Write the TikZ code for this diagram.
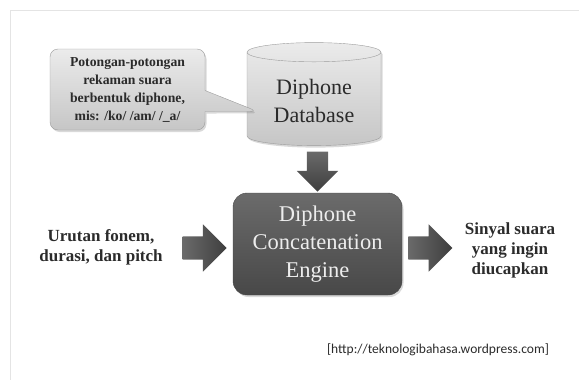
\documentclass[tikz,border=0pt]{standalone}
\usepackage{fontspec}
\IfFontExistsTF{LiberationSerif}
  {\setmainfont{LiberationSerif}[BoldFont=LiberationSerif-Bold]}
  {\setmainfont{Liberation Serif}}
\newfontfamily\urlfont{Carlito}
\usetikzlibrary{shapes.geometric,shapes.arrows,shapes.callouts,shadows,calc,positioning}

\definecolor{framegray}{HTML}{E4E4E4}
\definecolor{inkgray}{HTML}{2B2B2B}
\definecolor{enginetop}{HTML}{6B6B6B}
\definecolor{enginebot}{HTML}{484848}
\definecolor{arrowlight}{HTML}{6A6A6A}
\definecolor{arrowdark}{HTML}{3E3E3E}
\definecolor{paletop}{HTML}{EBEBEB}
\definecolor{palebot}{HTML}{C6C6C6}
\definecolor{edgegray}{HTML}{9C9C9C}

\tikzset{
  softshadow/.style={drop shadow={opacity=0.3, shadow xshift=1.5pt, shadow yshift=-2pt}},
  fat/.style={single arrow, draw=none, inner xsep=0pt, inner ysep=11.5pt, minimum height=44pt,
              single arrow head extend=12pt},
}

\begin{document}
\begin{tikzpicture}[x=1pt, y=-1pt,
    engine/.style={rectangle, rounded corners=14pt, minimum width=169pt, minimum height=102pt,
                   top color=enginetop, bottom color=enginebot, draw=enginebot, softshadow,
                   text=white!93!black, align=center, font=\fontsize{22.5}{28}\selectfont},
    storage/.style={cylinder, shape border rotate=90, aspect=0.22, minimum width=134pt,
                    minimum height=103pt, top color=paletop, bottom color=palebot, draw=edgegray,
                    text=inkgray, align=center, font=\fontsize{22}{28}\selectfont, softshadow},
    bubble/.style={rectangle callout, rounded corners=8pt, minimum width=155pt, minimum height=81pt,
                   callout pointer width=21pt, top color=paletop, bottom color=palebot,
                   draw=edgegray, softshadow, text=inkgray, align=center,
                   font=\bfseries\fontsize{13.7}{18}\selectfont},
    note/.style={text=inkgray, align=center, font=\bfseries\fontsize{17}{20}\selectfont}]

  \useasboundingbox (0,0) rectangle (579,380);
  \draw[framegray] (10,380) -- (10,10) -- (579,10);

  % main blocks
  \node[engine]  (engine) at (317.5,244)  {Diphone\\Concatenation\\Engine};
  \node[storage] (db)     at (314,100.5)  {Diphone\\Database};
  \node[bubble, callout absolute pointer={($(db.west)+(11,11)$)}] (clip) at (127.5,89.5)
        {Potongan-potongan\\rekaman suara\\berbentuk diphone,\\mis: /ko/ /am/ /\_a/};

  % input and output
  \node[note] (input)  at (101,247) {Urutan fonem,\\durasi, dan pitch};
  \node[note] (output) at (510,250) {Sinyal suara\\yang ingin\\diucapkan};

  % block arrows between them
  \node[fat, anchor=tip, left color=arrowlight, right color=arrowdark]
        (inarrow) at ([xshift=-6pt, yshift=-4pt]engine.west) {};
  \node[fat, anchor=tail, left color=arrowlight, right color=arrowdark]
        (outarrow) at ([xshift=6pt, yshift=-4pt]engine.east) {};
  \node[fat, shape border rotate=270, anchor=tip, minimum height=40pt, inner xsep=10.5pt,
        inner ysep=0pt, single arrow head extend=10pt, top color=arrowlight, bottom color=arrowdark]
        (dbarrow) at ([yshift=1pt]engine.north) {};

  \node[font=\urlfont\fontsize{13.5}{16}\selectfont, text=inkgray] (source) at (438,350)
        {[http://teknologibahasa.wordpress.com]};
\end{tikzpicture}
\end{document}
